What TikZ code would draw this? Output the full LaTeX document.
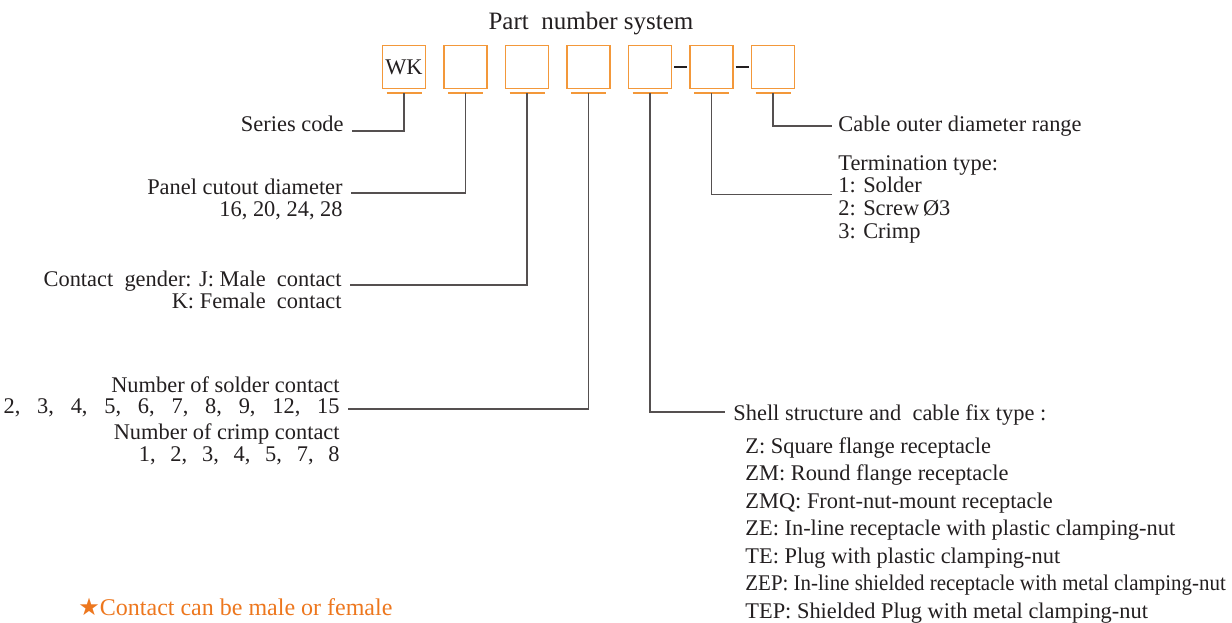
\documentclass[tikz,border=0pt]{standalone}
\usepackage{fontspec}
\setmainfont{Liberation Serif}
\newfontfamily\starfont{DejaVu Sans}
\usetikzlibrary{positioning, calc}
\definecolor{textgray}{RGB}{35, 31, 32}
\definecolor{leadgray}{RGB}{85, 80, 80}
\definecolor{boxorange}{RGB}{243, 152, 58}
\definecolor{noteorange}{RGB}{237, 119, 30}
\newcommand{\zc}[1][0.75em]{,\hspace{#1}}

\begin{document}
\begin{tikzpicture}[x=0.5pt, y=-0.5pt,
    lbl/.style={font=\fontsize{11.2}{13}\selectfont, text=textgray, inner sep=0pt},
    digitbox/.style={draw=boxorange, line width=0.75pt, minimum size=21.3pt, inner sep=0pt},
    lead/.style={draw=leadgray, line width=0.7pt},
    underbar/.style={draw=boxorange, line width=1pt},
    joiner/.style={draw=textgray, line width=1.2pt}]
  \useasboundingbox (0,0) rectangle (1232,622);

  % title
  \node[font=\fontsize{12.5}{15}\selectfont, text=textgray, anchor=base, inner sep=0pt] (title) at (591,29) {Part\ \ number system};

  % code boxes with their underbars
  \foreach \i in {1,...,7} {
    \node[digitbox] (b\i) at ({404+61.5*(\i-1)},67) {};
    \coordinate (u\i) at ({404+61.5*(\i-1)},93);
    \draw[underbar] ([xshift=-8.75pt]u\i) -- ([xshift=8.75pt]u\i);
  }
  \node[lbl] (wk) at (b1) {WK};
  \draw[joiner] ([xshift=1pt]b5.east) -- ([xshift=-1pt]b6.west);
  \draw[joiner] ([xshift=1pt]b6.east) -- ([xshift=-1pt]b7.west);

  % Series code
  \node[lbl, anchor=base east] (series) at (344,131) {Series code};
  \draw[lead] (u1) |- ([xshift=4pt]series.base east);

  % Panel cutout
  \node[lbl, anchor=base east] (panel) at (343,194) {Panel cutout diameter};
  \node[lbl, anchor=base east] (panel-sizes) at (343,216) {16, 20, 24, 28};
  \draw[lead] (u2) |- ([xshift=4pt,yshift=0.5pt]panel.base east);

  % Contact gender
  \node[lbl, anchor=base east] (gender) at (342,286) {Contact\ \ gender: J: Male\ \ contact};
  \node[lbl, anchor=base east] (gender-k) at (342,308) {K: Female\ \ contact};
  \draw[lead] (u3) |- ([xshift=4pt,yshift=0.5pt]gender.base east);

  % Number of contacts
  \node[lbl, anchor=base east] (solder) at (340,392) {Number of solder contact};
  \node[lbl, anchor=base east] (solder-n) at (340,413) {2\zc3\zc4\zc5\zc6\zc7\zc8\zc9\zc12\zc15};
  \node[lbl, anchor=base east] (crimp) at (340,439) {Number of crimp contact};
  \node[lbl, anchor=base east] (crimp-n) at (340,461) {1\zc[0.66em]2\zc[0.66em]3\zc[0.66em]4\zc[0.66em]5\zc[0.66em]7\zc[0.66em]8};
  \draw[lead] (u4) |- ([xshift=4pt,yshift=2pt]solder-n.base east);

  % Shell structure
  \node[lbl, anchor=base west] (shell) at (733,420) {Shell structure and\ \ cable fix type :};
  \foreach \code [count=\i] in {Z: Square flange receptacle, ZM: Round flange receptacle,
      ZMQ: Front-nut-mount receptacle, ZE: In-line receptacle with plastic clamping-nut,
      TE: Plug with plastic clamping-nut, {\scalebox{0.935}[1]{ZEP: In-line shielded receptacle with metal clamping-nut}},
      TEP: Shielded Plug with metal clamping-nut}
    \node[lbl, anchor=base west] (shell-\i) at (745,{425.5+27.5*\i}) {\code};
  \draw[lead] (u5) |- ([xshift=-4pt,yshift=4pt]shell.base west);

  % Termination type
  \node[lbl, anchor=base west] (term) at (838,170) {Termination type:};
  \foreach \opt [count=\i] in {1: Solder, 2: Screw\,Ø3, 3: Crimp}
    \node[lbl, anchor=base west] (term-\i) at (838,{170+22.7*\i}) {\opt};
  \draw[lead] (u6) |- ([xshift=-3pt,yshift=-1pt]term-1.base west);

  % Cable range
  \node[lbl, anchor=base west] (cable) at (838,131) {Cable outer diameter range};
  \draw[lead] (u7) |- ([xshift=-3pt,yshift=2.5pt]cable.base west);

  % note
  \node[font=\fontsize{12}{14}\selectfont, text=noteorange, anchor=base west, inner sep=0pt] (note) at (78,615) {{\starfont ★}Contact can be male or female};
\end{tikzpicture}
\end{document}
